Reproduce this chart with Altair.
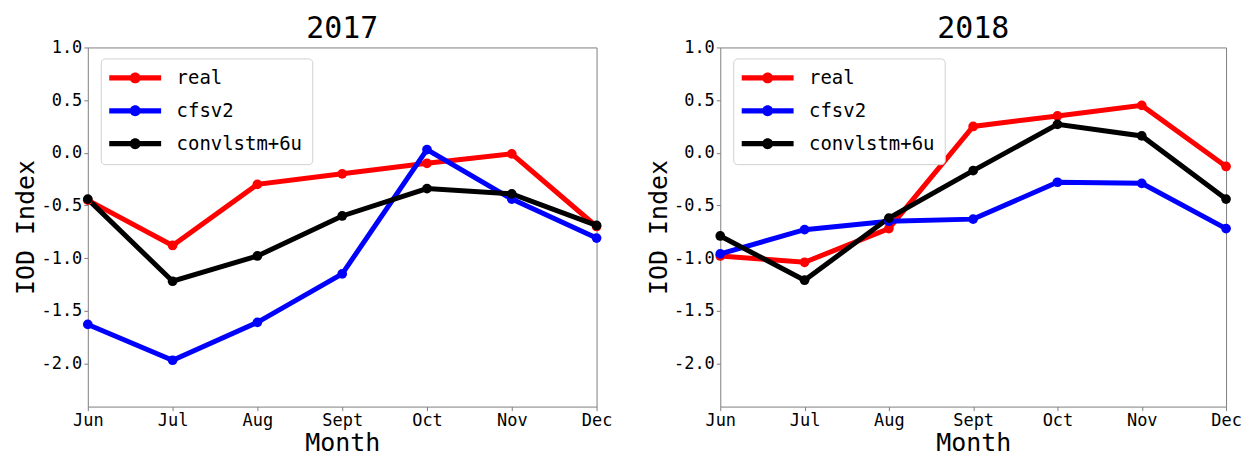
import altair as alt
import pandas as pd

months = ["Jun", "Jul", "Aug", "Sept", "Oct", "Nov", "Dec"]
series = ["real", "cfsv2", "convlstm+6u"]
colors = ["#ff0000", "#0000ff", "#000000"]

real_2017 = [-0.45, -0.88, -0.30, -0.20, -0.10, -0.01, -0.70]
cfsv2_2017 = [-1.63, -1.97, -1.61, -1.15, 0.03, -0.44, -0.81]
conv_2017 = [-0.44, -1.22, -0.98, -0.60, -0.34, -0.39, -0.69]

real_2018 = [-0.98, -1.04, -0.72, 0.25, 0.35, 0.45, -0.13]
cfsv2_2018 = [-0.96, -0.73, -0.65, -0.63, -0.28, -0.29, -0.72]
conv_2018 = [-0.79, -1.21, -0.62, -0.17, 0.27, 0.16, -0.44]

y_ticks = [-2.0, -1.5, -1.0, -0.5, 0.0, 0.5, 1.0]
y_domain = [-2.41, 1.0]

FONT = "DejaVu Sans Mono"
GRAY = "#808080"

# legend glyph: thick line with a dot in the middle
LEGEND_PATH = ("M-2.89,-0.29L2.89,-0.29L2.89,0.29L-2.89,0.29Z "
               "M-0.61,0A0.61,0.61,0,1,1,0.61,0A0.61,0.61,0,1,1,-0.61,0Z")


def make_df(vals):
    rows = []
    for s, v in zip(series, vals):
        for m, y in zip(months, v):
            rows.append({"month": m, "series": s, "value": y})
    return pd.DataFrame(rows)


def panel(df, title, width):
    base = alt.Chart(df).encode(
        x=alt.X("month:N", sort=months,
                scale=alt.Scale(type="point", padding=0, domain=months),
                axis=alt.Axis(title="Month", labelAngle=0)),
        y=alt.Y("value:Q",
                scale=alt.Scale(domain=y_domain, nice=False, zero=False),
                axis=alt.Axis(title="IOD Index", values=y_ticks,
                              labelExpr="datum.value < 0 ? '-' + format(-datum.value, '.1f') : format(datum.value, '.1f')")),
        color=alt.Color("series:N", sort=series,
                        scale=alt.Scale(domain=series, range=colors),
                        legend=alt.Legend(
                            title=None, orient="none", legendX=13, legendY=11,
                            symbolType=LEGEND_PATH, symbolSize=324,
                            symbolStrokeWidth=0, symbolOffset=15,
                            labelOffset=32, labelFont=FONT, labelFontSize=19,
                            labelColor="black", padding=10, rowPadding=13,
                            strokeColor="#d0d0d0", fillColor="white",
                            cornerRadius=4)),
    )
    lines = base.mark_line(strokeWidth=5)
    pts = base.mark_circle(size=95, opacity=1)
    return alt.layer(lines, pts).properties(
        width=width, height=360,
        title=alt.TitleParams(title, font=FONT, fontSize=30,
                              fontWeight="normal", color="black", offset=-6),
    )


p1 = panel(make_df([real_2017, cfsv2_2017, conv_2017]), "2017", 510)
p2 = panel(make_df([real_2018, cfsv2_2018, conv_2018]), "2018", 507)

chart = alt.hconcat(p1, p2, spacing=33).resolve_scale(color="independent").configure_view(
    stroke=GRAY, strokeWidth=1
).configure_axis(
    grid=False, domain=False, tickColor=GRAY, tickSize=4,
    labelFont=FONT, labelFontSize=17, labelColor="black", labelPadding=2,
    titleFont=FONT, titleFontSize=25, titleFontWeight="normal",
    titleColor="black", titlePadding=2,
)

chart.save("out.html", embed_options={"renderer": "svg", "actions": False})
